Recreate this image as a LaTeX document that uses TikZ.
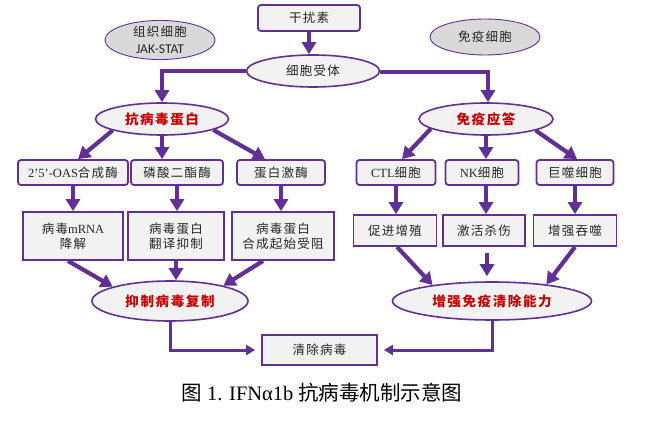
\documentclass[tikz,border=0pt]{standalone}
\usepackage{fontspec}
\setmainfont{Liberation Serif}
\newfontfamily\cjk[LetterSpace=10]{Noto Sans CJK SC}
\newfontfamily\cjkcap{Noto Sans CJK SC}
\newfontfamily\calib{Carlito}
\newcommand\en[1]{{\rmfamily #1}}
\usetikzlibrary{arrows.meta,shapes.geometric,calc}
\definecolor{vio}{RGB}{98,48,148}
\definecolor{boxfill}{RGB}{242,242,242}
\definecolor{grayfill}{RGB}{217,217,217}
\definecolor{redtxt}{RGB}{200,0,0}
\tikzset{
  rbox/.style={draw=vio, line width=1.8pt, fill=boxfill, rounded corners=3pt, inner sep=0pt, align=center,
    font=\cjk\fontsize{12.5}{15}\selectfont, text=black!85},
  sbox/.style={rbox, rounded corners=0pt},
  mell/.style={ellipse, draw=vio, line width=1.6pt, fill=boxfill, inner sep=0pt, align=center,
    font=\cjk\fontsize{12.5}{15}\selectfont, text=black!85},
  rell/.style={mell, font=\cjk\bfseries\fontsize{13.5}{15}\selectfont\addfontfeature{LetterSpace=12}, text=redtxt},
  gell/.style={ellipse, draw=vio, line width=0.9pt, fill=grayfill, inner sep=0pt, align=center,
    font=\cjk\fontsize{12.5}{17}\selectfont, text=black!85},
  arr/.style={draw=vio, line width=4.2pt, -{Triangle[width=14pt,length=12pt]}},
  conn/.style={draw=vio, line width=3.6pt, line join=miter, -{Triangle[width=14pt,length=12pt]}},
  bconn/.style={draw=vio, line width=3pt, line join=miter, -{Triangle[width=10pt,length=9pt]}}
}
\begin{document}
\begin{tikzpicture}[x=1pt,y=-1pt]
\fill[white] (0,0) rectangle (648,428);
\useasboundingbox (0,0) rectangle (648,428);

% top
\node[rbox, minimum width=102pt, minimum height=26pt] (ifn) at (309,18) {干扰素};
\node[gell, minimum width=110pt, minimum height=33pt] (tis) at (160,40) {组织细胞\\{\calib\fontsize{13.5}{15}\selectfont JAK-STAT}};
\node[gell, minimum width=110pt, minimum height=36pt] (imc) at (485,37) {免疫细胞};
\node[mell, minimum width=133pt, minimum height=32pt] (rec) at (313,71) {细胞受体};

% level 1
\node[rell, minimum width=133pt, minimum height=32pt] (anti) at (162,119) {抗病毒蛋白};
\node[rell, minimum width=134pt, minimum height=32pt] (imm) at (486,119) {免疫应答};

% level 2
\node[rbox, minimum width=110pt, minimum height=25pt] (oas) at (73,172.5) {\en{2’5’-OAS}合成酶};
\node[rbox, minimum width=92pt, minimum height=25pt] (pde) at (177,172.5) {磷酸二酯酶};
\node[rbox, minimum width=88pt, minimum height=25pt] (pk) at (281,172.5) {蛋白激酶};
\node[rbox, minimum width=79pt, minimum height=25pt] (ctl) at (396,172.5) {\en{CTL}细胞};
\node[rbox, minimum width=73pt, minimum height=25pt] (nk) at (482,172.5) {\en{NK}细胞};
\node[rbox, minimum width=77pt, minimum height=25pt] (mac) at (575,172.5) {巨噬细胞};

% level 3
\node[sbox, minimum width=100pt, minimum height=48pt] (mrna) at (73,236) {病毒\en{mRNA}\\降解};
\node[sbox, minimum width=96pt, minimum height=48pt] (tri) at (176,236) {病毒蛋白\\翻译抑制};
\node[sbox, minimum width=102pt, minimum height=48pt] (syn) at (283,236) {病毒蛋白\\合成起始受阻};
\node[sbox, minimum width=83pt, minimum height=31pt] (pro) at (395,230.5) {促进增殖};
\node[sbox, minimum width=82pt, minimum height=31pt] (act) at (484,230.5) {激活杀伤};
\node[sbox, minimum width=83pt, minimum height=31pt] (pha) at (575,230.5) {增强吞噬};

% level 4
\node[rell, minimum width=156pt, minimum height=40pt] (inh) at (170,301) {抑制病毒复制};
\node[rell, minimum width=199pt, minimum height=38pt] (enh) at (492,301) {增强免疫清除能力};
\node[sbox, minimum width=115pt, minimum height=30pt] (clr) at (319.5,350) {清除病毒};

\node[font=\cjkcap\fontsize{20.5}{22}\selectfont, inner sep=0pt] (cap) at (322,393) {图 \en{1. IFNα1b} 抗病毒机制示意图};

% connectors
\draw[arr] (ifn.south) -- (ifn.south |- rec.north);
\draw[conn] (rec.west) -| (anti.north);
\draw[conn] ([yshift=-1pt]rec.east) -| ([xshift=2pt]imm.north);

\draw[arr] (anti.193) -- ([xshift=5pt]oas.north);
\draw[arr] (anti.south) -- (anti.south |- pde.north);
\draw[arr] (anti.-12) -- ([xshift=-16pt]pk.north);
\draw[arr] (imm.190) -- ([xshift=6pt]ctl.north);
\draw[arr] (imm.south) -- (imm.south |- nk.north);
\draw[arr] (imm.-13) -- ([xshift=2pt]mac.north);

\draw[arr] (oas.south) -- (mrna.north);
\draw[arr] (pde.south) -- (pde.south |- tri.north);
\draw[arr] (pk.south) -- (pk.south |- syn.north);
\draw[arr] (ctl.south) -- (ctl.south |- pro.north);
\draw[arr] ([xshift=4pt]nk.south) -- ([xshift=4pt]nk.south |- act.north);
\draw[arr] (mac.south) -- (pha.north);

\draw[arr] ([xshift=-5pt]mrna.south) -- (inh.166);
\draw[arr] (tri.south) -- (tri.south |- inh.north);
\draw[arr] ([xshift=-20pt]syn.south) -- (inh.16);
\draw[arr] ([xshift=2pt]pro.south) -- (enh.165);
\draw[arr, shorten <=6pt, shorten >=5pt] ([xshift=3pt]act.south) -- ([xshift=3pt]act.south |- enh.north);
\draw[arr] (pha.south) -- (enh.17);

\draw[bconn, shorten >=6pt] (inh.south) |- (clr.west);
\draw[bconn, shorten >=6pt] (enh.south) |- (clr.east);
\end{tikzpicture}
\end{document}
